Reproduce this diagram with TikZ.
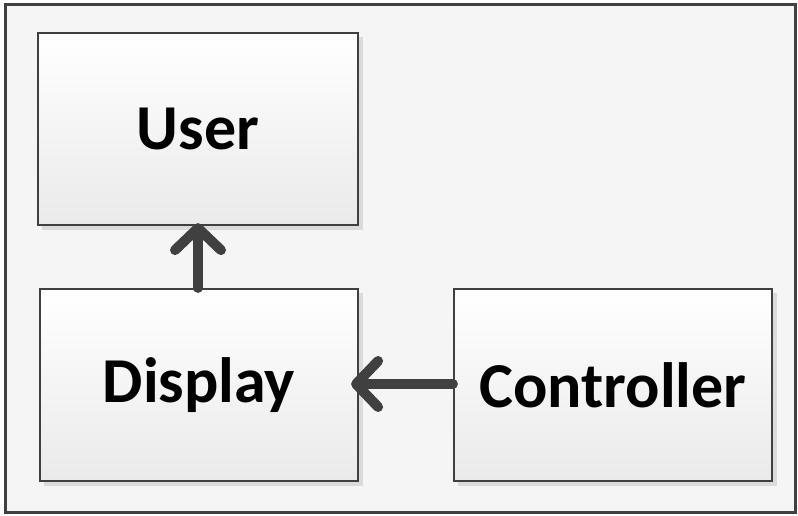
\documentclass[tikz,border=0pt]{standalone}
\usepackage{fontspec}
\setmainfont{Carlito}
\usetikzlibrary{arrows.meta,positioning}
\definecolor{edge}{HTML}{404040}
\definecolor{bg}{HTML}{F5F5F5}
\definecolor{boxbot}{HTML}{EAEAEA}
\tikzset{
  box/.style={draw=edge, line width=2.2pt, top color=white, bottom color=boxbot,
    minimum width=318pt, minimum height=192pt, inner sep=0pt,
    font=\fontsize{64}{72}\selectfont\bfseries, text=black},
  shade/.style={fill=black!14, draw=none},
  conn/.style={draw=edge, line width=10pt, line cap=round, line join=round,
    -{Straight Barb[round, length=22pt, width=46pt]}}
}
\begin{document}
\begin{tikzpicture}[x=1pt,y=-1pt]
\useasboundingbox (0,0) rectangle (798,515);
\node[draw=edge, line width=2.2pt, fill=bg, minimum width=790pt, minimum height=508pt, inner sep=0pt] (frame) at (400.5,258.5) {};
% shadows
\fill[shade] (42,37) rectangle (363,230);
\fill[shade] (44,293) rectangle (363,486);
\fill[shade] (458,293) rectangle (777,486);
\node[box, minimum width=320pt] (user) at (198,129) {User};
\node[box] (display) at (199,385) {Display};
\node[box] (controller) at (613,385) {Controller};
\draw[conn] (display.north -| 198,0) -- ([yshift=3pt]user.south -| 198,0);
\draw[conn] (controller.west |- 0,384) -- ([xshift=-8pt]display.east |- 0,384);
\end{tikzpicture}
\end{document}
